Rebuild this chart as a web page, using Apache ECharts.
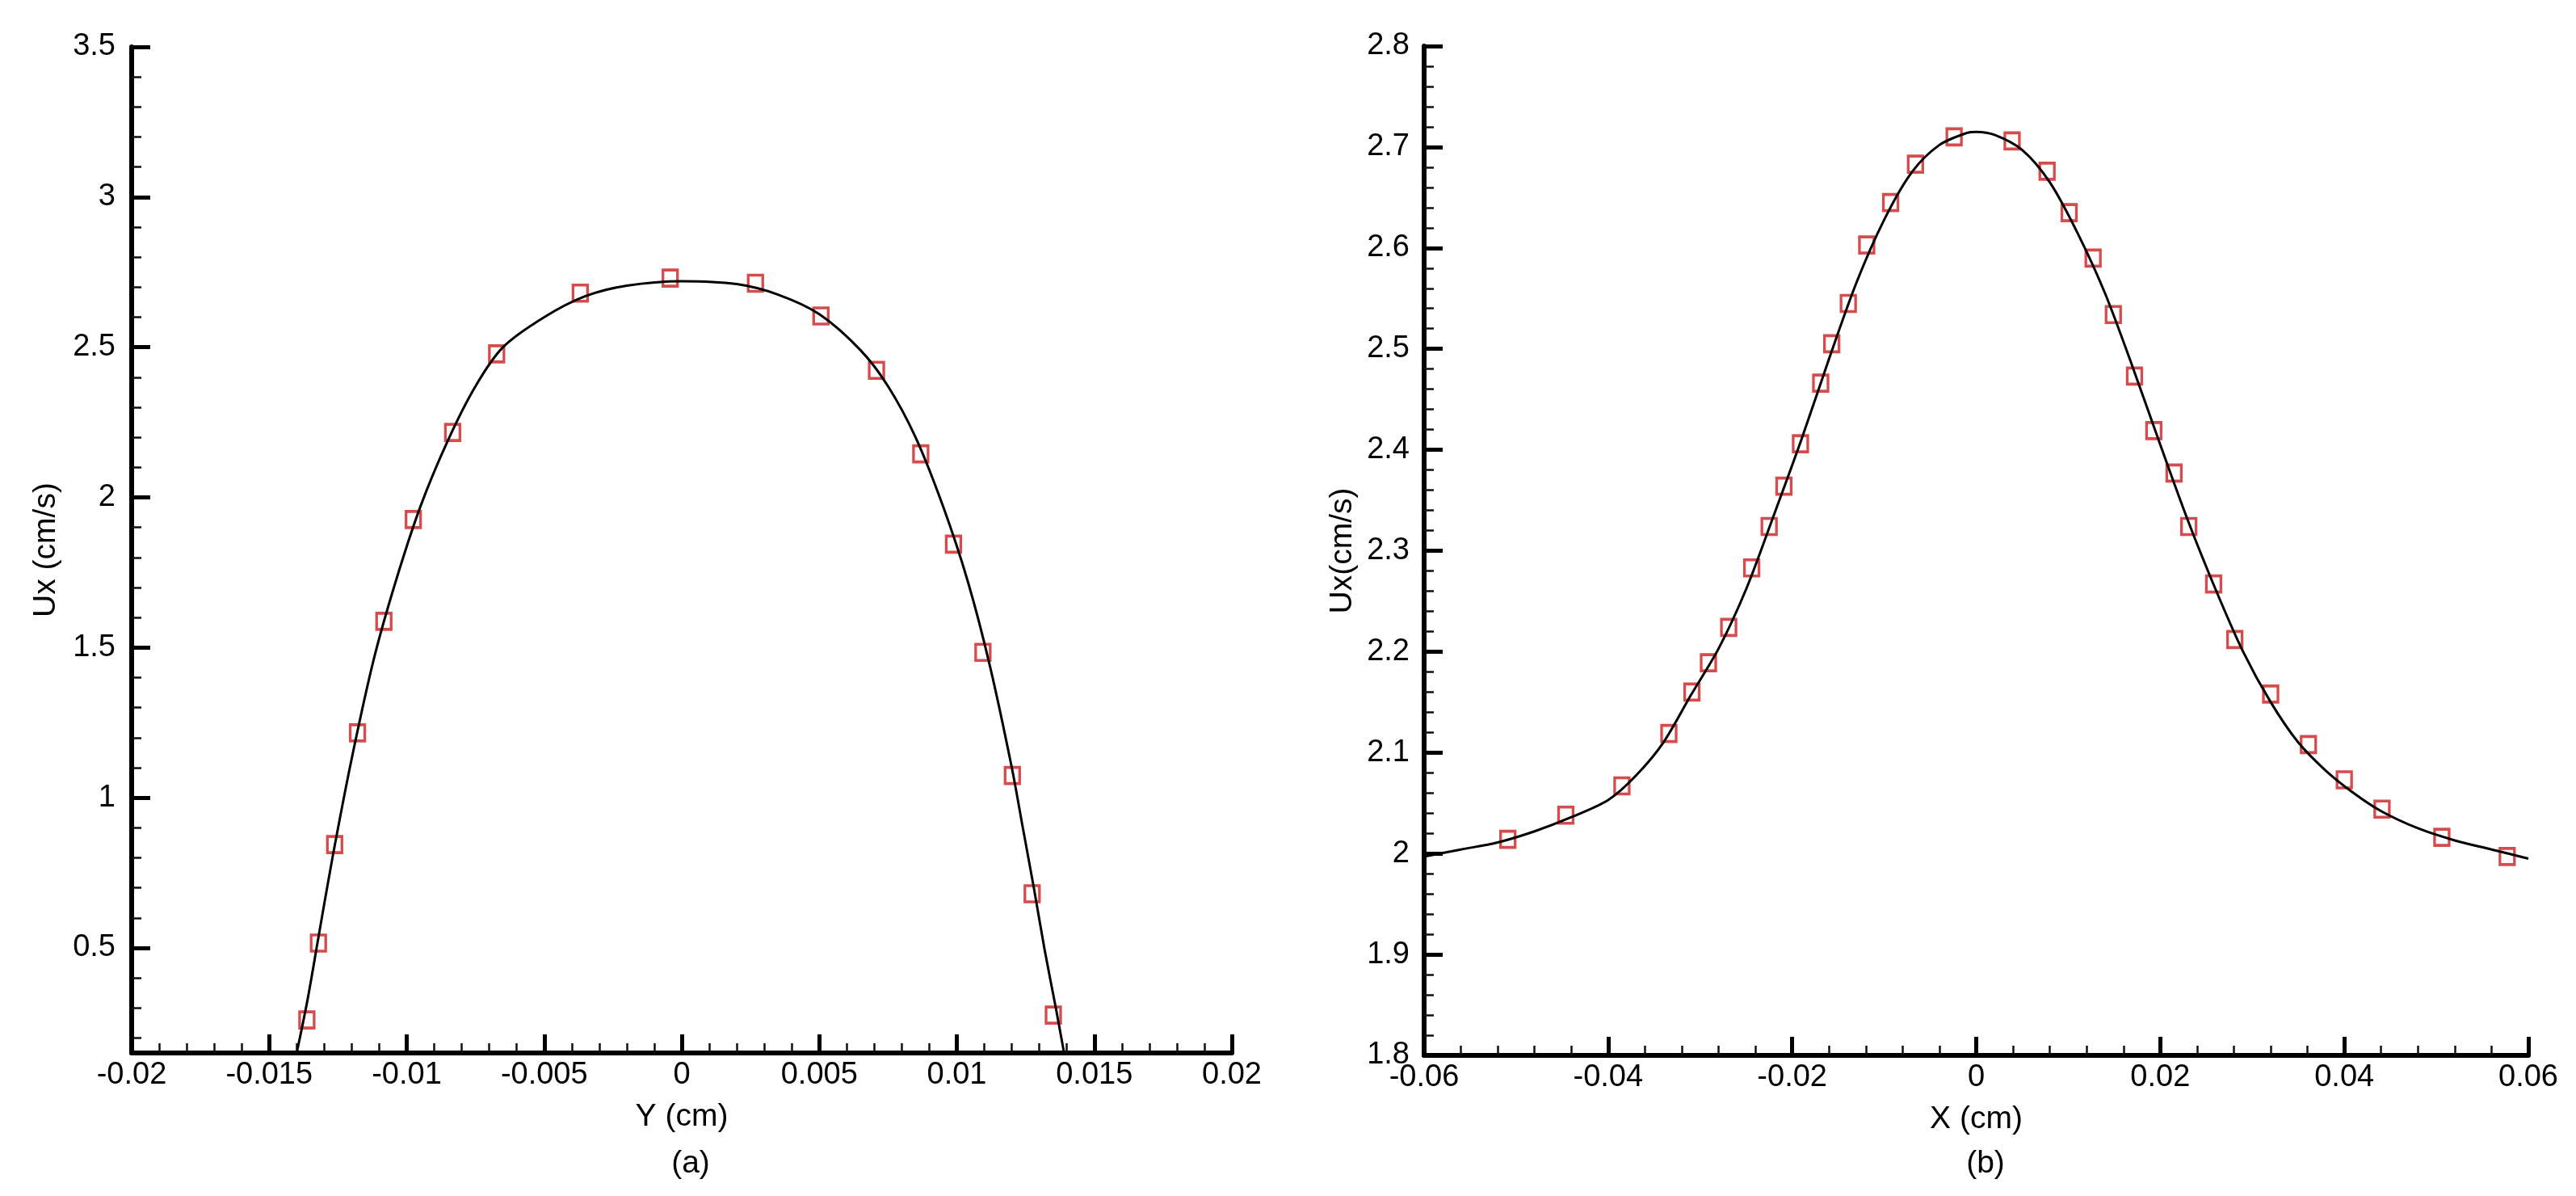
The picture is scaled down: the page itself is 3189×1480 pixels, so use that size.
<!DOCTYPE html>
<html><head><meta charset="utf-8">
<script src="https://cdn.jsdelivr.net/npm/echarts@6/dist/echarts.min.js"></script>
<style>html,body{margin:0;padding:0;background:#fff}#c{width:3189px;height:1480px}</style>
</head><body><div id="c"></div>
<script>
// ---- Panel (a): Ux vs Y ----
const aCurveX = [-0.0140, -0.0136, -0.0132, -0.0127, -0.0120, -0.0112, -0.0104, -0.0095, -0.0085, -0.0075, -0.0065, -0.0050, -0.0035, -0.0020, 0.0000, 0.0020, 0.0035, 0.0050, 0.0065, 0.0075, 0.0085, 0.0095, 0.0104, 0.0112, 0.0120, 0.0124, 0.0128, 0.0132, 0.0136, 0.0139];
const aCurveY = [0.15, 0.33, 0.54, 0.80, 1.13, 1.46, 1.72, 1.97, 2.19, 2.37, 2.50, 2.60, 2.67, 2.705, 2.72, 2.71, 2.675, 2.61, 2.49, 2.37, 2.20, 1.97, 1.72, 1.44, 1.10, 0.90, 0.70, 0.49, 0.30, 0.15];
const aMarkX = [-0.01363, -0.01321, -0.01262, -0.01179, -0.01083, -0.00976, -0.00833, -0.00673, -0.00369, -0.00042, 0.00268, 0.00506, 0.00708, 0.00869, 0.00988, 0.01095, 0.01202, 0.01274, 0.01351];
const aMarkY = [0.26, 0.516, 0.844, 1.216, 1.587, 1.926, 2.216, 2.478, 2.680, 2.730, 2.713, 2.604, 2.423, 2.145, 1.844, 1.484, 1.074, 0.680, 0.276];

// ---- Panel (b): Ux vs X ----
const bCurveX = [-0.060, -0.056, -0.052, -0.048, -0.044, -0.040, -0.037, -0.034, -0.031, -0.028, -0.025, -0.022, -0.019, -0.016, -0.013, -0.010, -0.007, -0.004, -0.001, 0.000, 0.002, 0.005, 0.008, 0.011, 0.014, 0.017, 0.020, 0.023, 0.026, 0.029, 0.032, 0.035, 0.038, 0.041, 0.044, 0.048, 0.052, 0.056, 0.060];
const bCurveY = [1.997, 2.004, 2.011, 2.022, 2.036, 2.053, 2.077, 2.110, 2.157, 2.203, 2.262, 2.335, 2.410, 2.490, 2.566, 2.628, 2.675, 2.702, 2.714, 2.715, 2.712, 2.697, 2.665, 2.615, 2.555, 2.482, 2.405, 2.330, 2.262, 2.200, 2.150, 2.110, 2.082, 2.060, 2.042, 2.025, 2.013, 2.004, 1.995];
const bMarkX = [-0.0509, -0.0446, -0.0385, -0.0334, -0.0309, -0.0291, -0.0269, -0.0244, -0.0225, -0.0209, -0.0191, -0.0169, -0.0157, -0.0139, -0.0119, -0.0093, -0.0066, -0.0024, 0.0039, 0.0077, 0.0101, 0.0127, 0.0149, 0.0172, 0.0193, 0.0215, 0.0231, 0.0258, 0.0281, 0.0320, 0.0361, 0.0400, 0.0441, 0.0506, 0.0577];
const bMarkY = [2.014, 2.038, 2.067, 2.119, 2.160, 2.189, 2.224, 2.283, 2.324, 2.364, 2.406, 2.466, 2.505, 2.545, 2.603, 2.645, 2.683, 2.710, 2.706, 2.676, 2.635, 2.590, 2.534, 2.473, 2.419, 2.377, 2.324, 2.267, 2.212, 2.158, 2.108, 2.073, 2.044, 2.016, 1.997];

// axis titles / captions
const aXName = 'Y (cm)', aYName = 'Ux (cm/s)', aCaption = '(a)';
const bXName = 'X (cm)', bYName = 'Ux(cm/s)', bCaption = '(b)';

const zip = (xs, ys) => xs.map((x, i) => [x, ys[i]]);
const FONT = "'Liberation Sans', Arial, sans-serif";
const FS = 38;

function baseAxis(extra) {
  return Object.assign({
    type: 'value',
    axisLine: { show: true, onZero: false, lineStyle: { color: '#000', width: 6 } },
    axisTick: { show: true, inside: true, length: 23, lineStyle: { color: '#000', width: 5 } },
    minorTick: { show: true, splitNumber: 5, length: 12, lineStyle: { color: '#111', width: 2.5 } },
    splitLine: { show: false },
    minorSplitLine: { show: false },
    axisLabel: { color: '#000', fontSize: FS, fontFamily: FONT },
    nameLocation: 'middle',
    nameTextStyle: { color: '#000', fontSize: 39, fontFamily: FONT }
  }, extra);
}

const chart = echarts.init(document.getElementById('c'), null, { renderer: 'canvas' });
const markerStyle = { color: 'rgba(0,0,0,0)', borderColor: '#cc1f1f', borderWidth: 3.5 };

chart.setOption({
  animation: false,
  backgroundColor: '#fff',
  grid: [
    { left: 163, top: 58, width: 1362, height: 1245 },
    { left: 1763, top: 57, width: 1367, height: 1249 }
  ],
  xAxis: [
    baseAxis({ gridIndex: 0, min: -0.02, max: 0.02, interval: 0.005, name: aXName, nameGap: 60,
      axisLabel: { color: '#000', fontSize: FS, fontFamily: FONT, margin: 9 } }),
    baseAxis({ gridIndex: 1, min: -0.06, max: 0.06, interval: 0.02, name: bXName, nameGap: 60,
      axisLabel: { color: '#000', fontSize: FS, fontFamily: FONT, margin: 9 } })
  ],
  yAxis: [
    baseAxis({ gridIndex: 0, min: 0.15, max: 3.5, minInterval: 0.5, maxInterval: 0.5, name: aYName, nameGap: 86,
      axisLabel: { color: '#000', fontSize: FS, fontFamily: FONT, margin: 20, showMinLabel: false } }),
    baseAxis({ gridIndex: 1, min: 1.8, max: 2.8, interval: 0.1, name: bYName, nameGap: 81,
      axisLabel: { color: '#000', fontSize: FS, fontFamily: FONT, margin: 18 } })
  ],
  graphic: [
    { type: 'text', x: 855, y: 1440, style: { text: aCaption, font: '39px ' + FONT, fill: '#000', textAlign: 'center', textVerticalAlign: 'middle' } },
    { type: 'text', x: 2458, y: 1440, style: { text: bCaption, font: '39px ' + FONT, fill: '#000', textAlign: 'center', textVerticalAlign: 'middle' } }
  ],
  series: [
    { type: 'scatter', xAxisIndex: 0, yAxisIndex: 0, data: zip(aMarkX, aMarkY), symbol: 'rect', symbolSize: [18, 20], itemStyle: markerStyle, z: 2 },
    { type: 'line', xAxisIndex: 0, yAxisIndex: 0, data: zip(aCurveX, aCurveY), showSymbol: false, smooth: 0.3, lineStyle: { color: '#000', width: 3 }, z: 3 },
    { type: 'scatter', xAxisIndex: 1, yAxisIndex: 1, data: zip(bMarkX, bMarkY), symbol: 'rect', symbolSize: [18, 20], itemStyle: markerStyle, z: 2 },
    { type: 'line', xAxisIndex: 1, yAxisIndex: 1, data: zip(bCurveX, bCurveY), showSymbol: false, smooth: 0.3, lineStyle: { color: '#000', width: 3 }, z: 3 }
  ]
});
</script>
</body></html>
